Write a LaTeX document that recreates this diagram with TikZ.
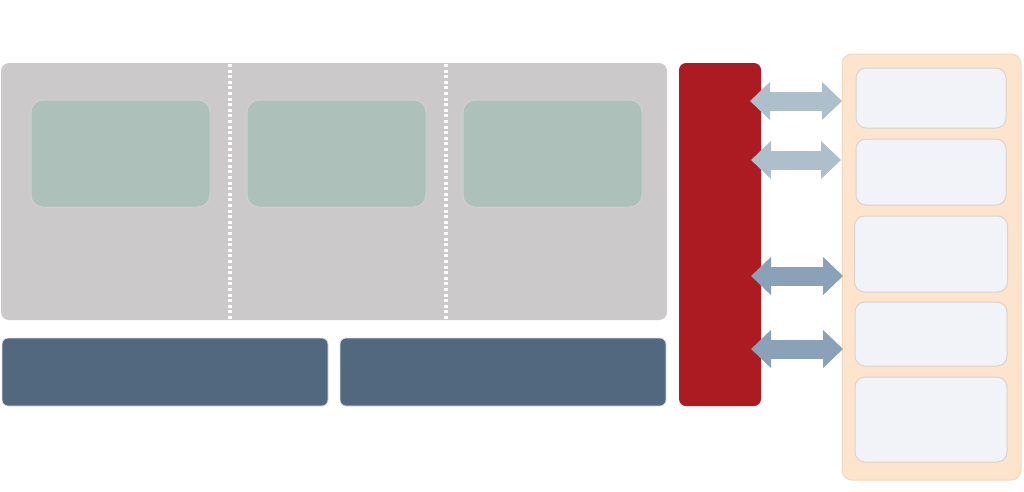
\documentclass[tikz,border=0pt]{standalone}
\usepackage{tikz}
\usetikzlibrary{ positioning, arrows.meta }
\definecolor{panel_grey}{HTML}{CBC9C9}
\definecolor{app_green}{HTML}{ADC0BA}
\definecolor{app_edge}{HTML}{C8D5D0}
\definecolor{bar_blue}{HTML}{52687F}
\definecolor{bus_red}{HTML}{AD1B22}
\definecolor{store_orange}{HTML}{FDE4CC}
\definecolor{store_edge}{HTML}{F3D6BE}
\definecolor{slot_fill}{HTML}{F1F3F8}
\definecolor{slot_edge}{HTML}{D9D4CF}
\definecolor{link_light}{HTML}{AEBFCC}
\definecolor{link_dark}{HTML}{8AA1B8}
\tikzset{
    base_box/.style={rectangle, inner sep=0pt, outer sep=0pt},
    core_panel/.style={base_box, rounded corners=8pt, fill=panel_grey, minimum width=666pt, minimum height=257pt},
    app_node/.style={base_box, rounded corners=12pt, fill=app_green, draw=app_edge, line width=1pt, minimum width=179pt, minimum height=107pt},
    bar_node/.style={base_box, rounded corners=6pt, fill=bar_blue, draw=white!80!bar_blue, line width=0.8pt, minimum width=326pt, minimum height=68pt},
    bus_node/.style={base_box, rounded corners=7pt, fill=bus_red, minimum width=82pt, minimum height=343pt},
    store_node/.style={base_box, rounded corners=10pt, fill=store_orange, draw=store_edge, line width=1pt, minimum width=179pt, minimum height=426pt},
    slot_node/.style={base_box, rounded corners=10pt, fill=slot_fill, draw=slot_edge, line width=1pt, minimum width=150pt},
    sep_line/.style={white, line width=3.2pt, dash pattern=on 3pt off 2.6pt},
    link_arrow/.style={line width=19pt, {Triangle[width=37pt,length=20pt]}-{Triangle[width=37pt,length=20pt]}},
}

\begin{document}
\begin{tikzpicture}[x=1pt, y=-1pt]
            \useasboundingbox (0,0) rectangle (1024,491);
            %%%%%%%%%%%%%%
            % CORE PANEL %
            %%%%%%%%%%%%%%
            \node (core) [core_panel] at (334,191.5) {};
            \node (app_1) [app_node] at (120.5,153.5) {};
            \node (app_2) [app_node, right = 37pt of app_1] {};
            \node (app_3) [app_node, right = 37pt of app_2] {};

            \draw [sep_line] (230,64) -- (230,320);
            \draw [sep_line] (446,64) -- (446,320);

            %%%%%%%%%%%%%%%
            % BOTTOM BARS %
            %%%%%%%%%%%%%%%
            \node (bar_1) [bar_node] at (165,372) {};
            \node (bar_2) [bar_node, right = 12pt of bar_1] {};

            %%%%%%%%%%%%%%
            % RED BUS    %
            %%%%%%%%%%%%%%
            \node (bus) [bus_node] at (720,234.5) {};

            %%%%%%%%%%%%%%
            % STORE      %
            %%%%%%%%%%%%%%
            \node (store) [store_node] at (931.5,267) {};
            \node (slot_1) [slot_node, minimum height=60pt] at (931,98) {};
            \node (slot_2) [slot_node, minimum height=66pt, below = 11pt of slot_1] {};
            \node (slot_3) [slot_node, minimum height=76pt, minimum width=153pt, below = 11pt of slot_2] {};
            \node (slot_4) [slot_node, minimum height=64pt, minimum width=152pt, below = 10pt of slot_3] {};
            \node (slot_5) [slot_node, minimum height=85pt, minimum width=152pt, below = 11pt of slot_4] {};

            %%%%%%%%%%%%%%
            % LINKS      %
            %%%%%%%%%%%%%%
            \coordinate (link_1_l) at (750,101);
            \coordinate (link_1_r) at (842,101);
            \coordinate (link_2_l) at (751,160);
            \coordinate (link_2_r) at (841,160);
            \coordinate (link_3_l) at (751,276);
            \coordinate (link_3_r) at (843,276);
            \coordinate (link_4_l) at (751,349);
            \coordinate (link_4_r) at (843,349);

            \draw [link_arrow, link_light] (link_1_l) -- (link_1_r);
            \draw [link_arrow, link_light] (link_2_l) -- (link_2_r);
            \draw [link_arrow, link_dark] (link_3_l) -- (link_3_r);
            \draw [link_arrow, link_dark] (link_4_l) -- (link_4_r);
      \end{tikzpicture}
\end{document}
